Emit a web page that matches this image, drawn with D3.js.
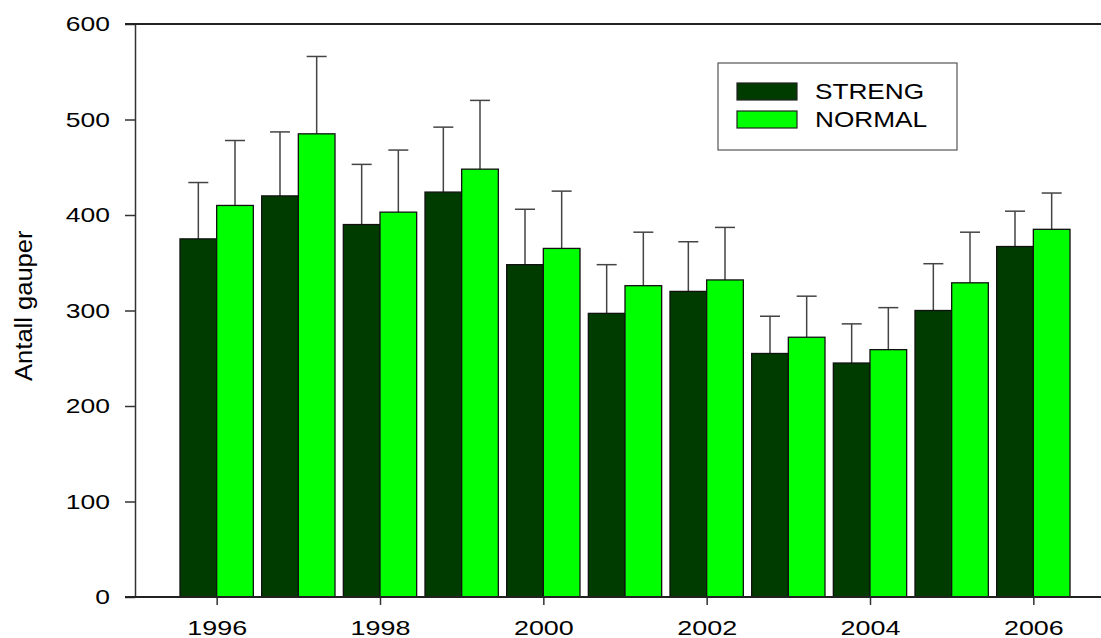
<!DOCTYPE html>
<html>
<head>
<meta charset="utf-8">
<script src="https://cdn.jsdelivr.net/npm/d3@7"></script>
<style>
  body { margin: 0; background: #fff; }
  svg { display: block; font-family: "Liberation Sans", Arial, sans-serif; }
</style>
</head>
<body>
<script>
var years = [1996, 1997, 1998, 1999, 2000, 2001, 2002, 2003, 2004, 2005, 2006];
var streng = [375, 420, 390, 424, 348, 297, 320, 255, 245, 300, 367];
var normal = [410, 485, 403, 448, 365, 326, 332, 272, 259, 329, 385];
var strengUpper = [434, 487, 453, 492, 406, 348, 372, 294, 286, 349, 404];
var normalUpper = [478, 566, 468, 520, 425, 382, 387, 315, 303, 382, 423];
var seriesNames = ['STRENG', 'NORMAL'];
var seriesColors = ['#003c00', '#00ff00'];
var yTicks = [0, 100, 200, 300, 400, 500, 600];
var xTicks = [1996, 1998, 2000, 2002, 2004, 2006];

var width = 1101, height = 638;

var svg = d3.select('body').append('svg')
    .attr('width', width)
    .attr('height', height);

var xScale = d3.scaleLinear().domain([1995, 2007]).range([135, 1115]),
    yScale = d3.scaleLinear().domain([0, 600]).range([597, 24]),
    step = xScale(1997) - xScale(1996),
    barW = step * 0.449,
    inner = d3.scaleBand().domain(seriesNames).range([-barW, barW]),
    cScale = d3.scaleOrdinal().domain(seriesNames).range(seriesColors);

// stretch text horizontally, the original glyphs are wide
function stretch(sel, ratio) {
    sel.each(function() {
        var len = this.getComputedTextLength();
        d3.select(this)
            .attr('textLength', len * ratio)
            .attr('lengthAdjust', 'spacingAndGlyphs');
    });
}

var rows = [];
years.forEach(function(y, i) {
    rows.push({year: y, name: 'STRENG', value: streng[i], upper: strengUpper[i]});
    rows.push({year: y, name: 'NORMAL', value: normal[i], upper: normalUpper[i]});
});

// error bars (upper only)
var err = svg.append('g')
    .attr('stroke', '#444')
    .attr('stroke-width', 1.5);

err.selectAll('.stem')
    .data(rows)
    .enter()
    .append('line')
    .attr('x1', function(d) { return xScale(d.year) + inner(d.name) + inner.bandwidth()/2; })
    .attr('x2', function(d) { return xScale(d.year) + inner(d.name) + inner.bandwidth()/2; })
    .attr('y1', function(d) { return yScale(d.value); })
    .attr('y2', function(d) { return yScale(d.upper); });

err.selectAll('.cap')
    .data(rows)
    .enter()
    .append('line')
    .attr('x1', function(d) { return xScale(d.year) + inner(d.name) + inner.bandwidth()/2 - 10; })
    .attr('x2', function(d) { return xScale(d.year) + inner(d.name) + inner.bandwidth()/2 + 10; })
    .attr('y1', function(d) { return yScale(d.upper); })
    .attr('y2', function(d) { return yScale(d.upper); });

// bars
svg.append('g').selectAll('rect')
    .data(rows)
    .enter()
    .append('rect')
    .attr('x', function(d) { return xScale(d.year) + inner(d.name); })
    .attr('y', function(d) { return yScale(d.value); })
    .attr('width', inner.bandwidth())
    .attr('height', function(d) { return yScale(0) - yScale(d.value); })
    .attr('fill', function(d) { return cScale(d.name); })
    .attr('stroke', '#111')
    .attr('stroke-width', 1.3);

// axes
var yAxis = d3.axisLeft(yScale)
    .tickValues(yTicks)
    .tickSize(10)
    .tickSizeOuter(0)
    .tickPadding(15);

var yy = svg.append('g')
    .attr('transform', 'translate(' + xScale(1995) + ',0)')
    .call(yAxis);
yy.selectAll('path, line').attr('stroke', '#333').attr('stroke-width', 1.5);
yy.selectAll('text')
    .style('font-size', '21px')
    .attr('fill', '#000')
    .call(stretch, 1.26);

var xAxis = d3.axisBottom(xScale)
    .tickValues(xTicks)
    .tickFormat(d3.format('d'))
    .tickSize(8)
    .tickSizeOuter(0)
    .tickPadding(15);

var xx = svg.append('g')
    .attr('transform', 'translate(0,' + yScale(0) + ')')
    .call(xAxis);
xx.select('.domain').remove();
xx.selectAll('line').attr('stroke', '#333').attr('stroke-width', 1.5);
xx.selectAll('text')
    .style('font-size', '21px')
    .attr('fill', '#000')
    .call(stretch, 1.28);

// baseline and top frame line
svg.append('g')
    .attr('stroke', '#222')
    .attr('stroke-width', 2)
    .selectAll('line')
    .data([0, 600])
    .enter()
    .append('line')
    .attr('x1', xScale(1995) - 10)
    .attr('x2', width)
    .attr('y1', function(d) { return yScale(d); })
    .attr('y2', function(d) { return yScale(d); });

// y label
svg.append('text')
    .attr('transform', 'translate(32,' + yScale(305) + ') rotate(-90)')
    .attr('text-anchor', 'middle')
    .style('font-size', '23px')
    .text('Antall gauper')
    .call(stretch, 1.11);

// legend
var legend = svg.append('g')
    .attr('transform', 'translate(718,63)');

legend.append('rect')
    .attr('width', 239)
    .attr('height', 87)
    .attr('fill', '#fff')
    .attr('stroke', '#555')
    .attr('stroke-width', 1.2);

var items = legend.selectAll('.item')
    .data(seriesNames)
    .enter()
    .append('g')
    .attr('transform', function(d, i) { return 'translate(0,' + (20 + i*28) + ')'; });

items.append('rect')
    .attr('x', 19)
    .attr('width', 60)
    .attr('height', 17)
    .attr('fill', function(d) { return cScale(d); })
    .attr('stroke', '#222')
    .attr('stroke-width', 1.2);

items.append('text')
    .attr('x', 97)
    .attr('y', 16)
    .style('font-size', '22px')
    .text(function(d) { return d; })
    .call(stretch, 1.19);
</script>
</body>
</html>
